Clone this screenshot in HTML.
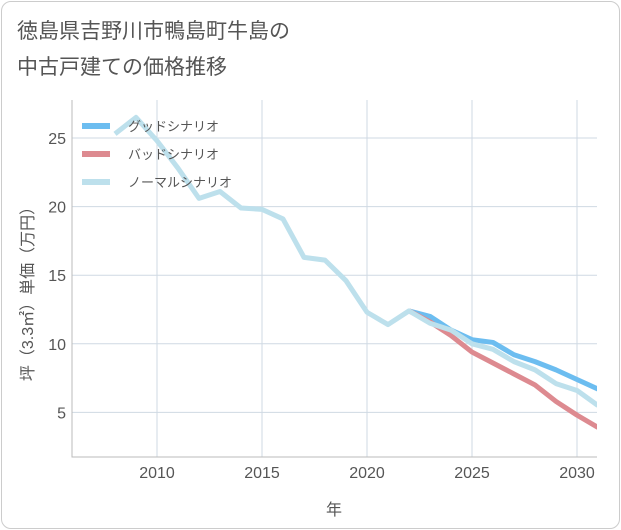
<!DOCTYPE html>
<html><head><meta charset="utf-8"><style>
body{margin:0;background:#fff;}
.wrap{position:relative;width:621px;height:530px;font-family:"Liberation Sans","Noto Sans CJK JP",sans-serif;}
.frame{position:absolute;left:1px;top:1px;width:617px;height:526px;border:1px solid #ccc;border-radius:10px;}
.title{position:absolute;left:17px;top:14px;font-size:21px;line-height:36px;color:#555;}
</style></head><body>
<div class="wrap">
<div class="frame"></div>
<div class="title">徳島県吉野川市鴨島町牛島の<br>中古戸建ての価格推移</div>
<svg id="c" width="621" height="530" style="position:absolute;left:0;top:0"></svg>
</div>
<script>
const years=[2008,2009,2010,2011,2012,2013,2014,2015,2016,2017,2018,2019,2020,2021,2022,2023,2024,2025,2026,2027,2028,2029,2030,2031];
const normalVals=[25.3,26.5,24.8,22.8,20.6,21.1,19.9,19.8,19.1,16.3,16.1,14.6,12.3,11.4,12.4,11.5,11.0,10.0,9.6,8.7,8.1,7.1,6.6,5.5];
const futureYears=[2022,2023,2024,2025,2026,2027,2028,2029,2030,2031];
const goodVals=[12.4,12.0,11.0,10.3,10.1,9.2,8.7,8.1,7.4,6.7];
const badVals=[12.4,11.6,10.6,9.4,8.6,7.8,7.0,5.8,4.8,3.9];
const xTicks=[2010,2015,2020,2025,2030];
const yTicks=[5,10,15,20,25];
const L=72,R=597,T=100,B=457;
const xs=y=>157+(y-2010)*21;
const ys=v=>481-v*13.72;
const svg=document.getElementById('c');const NS='http://www.w3.org/2000/svg';
function mk(t,a,p){const e=document.createElementNS(NS,t);for(const k in a)e.setAttribute(k,a[k]);(p||svg).appendChild(e);return e;}
const cp=mk('clipPath',{id:'cp'});mk('rect',{x:L,y:T,width:R-L,height:B-T},cp);
xTicks.forEach(t=>{const l=mk('line',{x1:xs(t),x2:xs(t),y1:T,y2:B,stroke:'#cfd9e3'});


const tx=mk('text',{x:xs(t),y:478,'text-anchor':'middle','font-size':16,fill:'#555'});tx.textContent=t;

});
yTicks.forEach(t=>{const l=mk('line',{x1:L,x2:R,y1:ys(t),y2:ys(t),stroke:'#cfd9e3'});


const tx=mk('text',{x:66,y:ys(t)+6,'text-anchor':'end','font-size':16,fill:'#555'});tx.textContent=t;

});
const ax=mk('path',{d:`M${L},${T}V${B}H${R}`,stroke:'#bbb',fill:'none'});


function line(xv,vals,col,name){const d=vals.map((v,i)=>(i?'L':'M')+xs(xv[i])+','+ys(v)).join('');
const p=mk('path',{d,stroke:col,'stroke-width':5,fill:'none','stroke-linejoin':'round','clip-path':'url(#cp)'});

}
line(futureYears,goodVals,'#6cbdf0','good-scenario-line');
line(futureYears,badVals,'#dd8a90','bad-scenario-line');
line(years,normalVals,'#bde0ec','normal-scenario-line');
const lg=mk('g',{});


[['グッドシナリオ','#6cbdf0'],['バッドシナリオ','#dd8a90'],['ノーマルシナリオ','#bde0ec']].forEach((s,i)=>{
const y=126+i*28;
const g=mk('g',{},lg);


mk('line',{x1:82,x2:110,y1:y,y2:y,stroke:s[1],'stroke-width':6},g);
const t=mk('text',{x:128,y:y+5,'font-size':13,fill:'#555'},g);t.textContent=s[0];});
const xt=mk('text',{x:334,y:515,'text-anchor':'middle','font-size':16,fill:'#555'});xt.textContent='年';


const yt=mk('text',{x:0,y:0,'text-anchor':'middle','font-size':16,fill:'#555',transform:'translate(33,290) rotate(-90)'});yt.textContent='坪（3.3㎡）単価（万円）';


</script>
</body></html>
